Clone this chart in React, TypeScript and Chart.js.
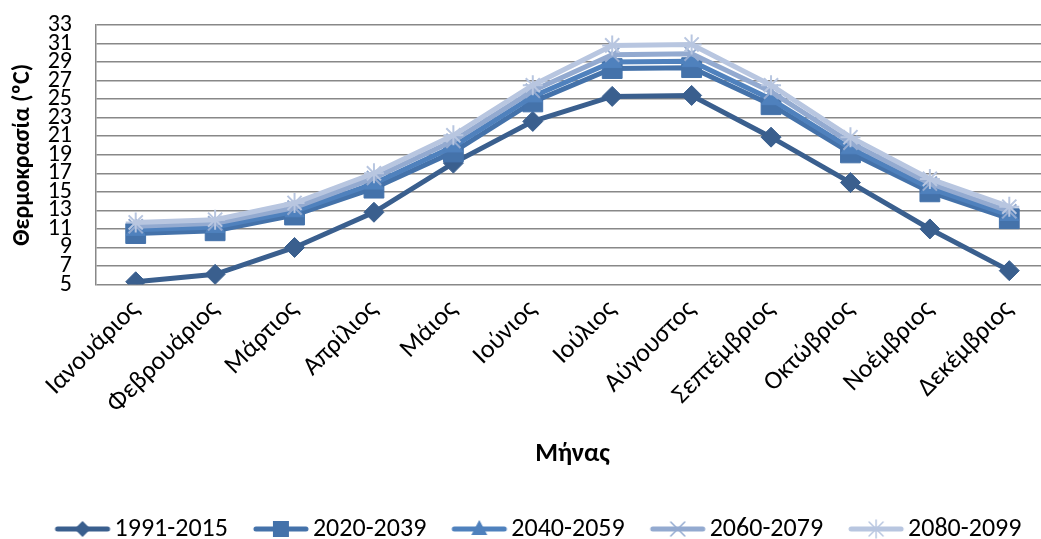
import React, { useEffect, useRef } from "react";
import { Chart, registerables } from "chart.js";

Chart.register(...registerables);

const months = [
  "Ιανουάριος", "Φεβρουάριος", "Μάρτιος", "Απρίλιος", "Μάιος", "Ιούνιος",
  "Ιούλιος", "Αύγουστος", "Σεπτέμβριος", "Οκτώβριος", "Νοέμβριος", "Δεκέμβριος",
];
const seriesNames = ["1991-2015", "2020-2039", "2040-2059", "2060-2079", "2080-2099"];
const s1991 = [5.3, 6.1, 9.0, 12.8, 18.1, 22.6, 25.3, 25.4, 20.9, 16.0, 11.0, 6.5];
const s2020 = [10.5, 10.8, 12.5, 15.4, 19.3, 24.7, 28.3, 28.4, 24.4, 19.2, 15.0, 12.1];
const s2040 = [10.9, 11.2, 12.9, 15.9, 19.9, 25.3, 29.0, 29.1, 25.0, 19.7, 15.4, 12.5];
const s2060 = [11.3, 11.6, 13.3, 16.5, 20.5, 25.9, 29.8, 29.9, 25.8, 20.3, 15.9, 12.9];
const s2080 = [11.7, 12.0, 13.8, 17.0, 21.1, 26.5, 30.8, 30.9, 26.5, 20.9, 16.4, 13.4];
const yMin = 5;
const yMax = 33;
const yStep = 2;

const colors = ["#3A5F8E", "#4472AA", "#4F81BD", "#93AAD0", "#B8C6E0"];
const styles = ["rectRot", "rect", "triangle", "crossRot", "star"];
const radii = [10, 14, 11, 10, 10];
const FONT = "Carlito, 'Liberation Sans Narrow', 'DejaVu Sans Condensed', 'Noto Sans', sans-serif";

const BOXW = 68;
const ICONW = 110;

function legendIcon(i: number): HTMLCanvasElement {
  const c = document.createElement("canvas");
  c.width = ICONW;
  c.height = 22;
  const ctx = c.getContext("2d") as CanvasRenderingContext2D;
  const cx = ICONW / 2 + BOXW / 2 - 19;
  ctx.strokeStyle = colors[i];
  ctx.fillStyle = colors[i];
  ctx.lineWidth = 5;
  ctx.lineCap = "round";
  ctx.beginPath();
  ctx.moveTo(cx - 25, 11);
  ctx.lineTo(cx + 25, 11);
  ctx.stroke();
  const x = cx, y = 11;
  const st = styles[i];
  ctx.lineWidth = 1.5;
  ctx.beginPath();
  if (st === "rectRot") {
    ctx.moveTo(x - 8, y); ctx.lineTo(x, y - 8); ctx.lineTo(x + 8, y); ctx.lineTo(x, y + 8); ctx.closePath(); ctx.fill();
  } else if (st === "rect") {
    ctx.rect(x - 8, y - 8, 16, 16); ctx.fill();
  } else if (st === "triangle") {
    ctx.moveTo(x - 8, y + 6); ctx.lineTo(x, y - 9); ctx.lineTo(x + 8, y + 6); ctx.closePath(); ctx.fill();
  } else if (st === "crossRot") {
    ctx.moveTo(x - 7, y - 7); ctx.lineTo(x + 7, y + 7); ctx.moveTo(x + 7, y - 7); ctx.lineTo(x - 7, y + 7); ctx.stroke();
  } else {
    ctx.moveTo(x - 7, y - 7); ctx.lineTo(x + 7, y + 7); ctx.moveTo(x + 7, y - 7); ctx.lineTo(x - 7, y + 7);
    ctx.moveTo(x, y - 9); ctx.lineTo(x, y + 9); ctx.stroke();
  }
  return c;
}

export default function App() {
  const ref = useRef<HTMLCanvasElement | null>(null);
  useEffect(() => {
    if (!ref.current) return;
    const all = [s1991, s2020, s2040, s2060, s2080];
    const icons = seriesNames.map((_, i) => legendIcon(i));
    const chart = new Chart(ref.current, {
      type: "line",
      data: {
        labels: months,
        datasets: all.map((d, i) => ({
          label: seriesNames[i],
          data: d,
          borderColor: colors[i],
          backgroundColor: colors[i],
          pointBackgroundColor: colors[i],
          pointBorderColor: colors[i],
          borderWidth: 5,
          pointStyle: styles[i] as any,
          pointRadius: radii[i],
          pointBorderWidth: i >= 3 ? 2 : 1,
          tension: 0,
          order: 5 - i,
        })),
      },
      options: {
        responsive: false,
        animation: false,
        layout: { autoPadding: false, padding: { left: 6, right: 1, top: 25, bottom: -13 } },
        plugins: {
          tooltip: { enabled: false },
          legend: {
            position: "bottom",
            labels: {
              usePointStyle: true,
              pointStyleWidth: BOXW,
              padding: 4,
              color: "#000",
              font: { family: FONT, size: 26, lineHeight: 1.0 },
              generateLabels: () =>
                seriesNames.map((n, i) => ({
                  text: n,
                  fillStyle: colors[i],
                  strokeStyle: colors[i],
                  lineWidth: 0,
                  pointStyle: icons[i] as any,
                  hidden: false,
                  datasetIndex: i,
                  fontColor: "#000",
                })),
            },
          },
        },
        scales: {
          x: {
            offset: true,
            grid: { display: false, drawTicks: false },
            border: { display: false },
            ticks: {
              color: "#000",
              font: { family: FONT, size: 26 },
              minRotation: 45,
              maxRotation: 45,
              autoSkip: false,
              padding: 10,
            },
            title: {
              display: true,
              text: "Μήνας",
              color: "#000",
              font: { family: FONT, size: 26, weight: "bold" },
              padding: { top: 9, bottom: 42 },
            },
            afterFit: (scale: any) => {
              scale.paddingLeft = 0;
              scale.paddingRight = 0;
            },
          },
          y: {
            min: yMin,
            max: yMax,
            grid: { color: "#888888", lineWidth: 1.5, drawTicks: false },
            border: { display: true, color: "#888888", width: 1.5 },
            ticks: {
              stepSize: yStep,
              autoSkip: false,
              maxTicksLimit: 40,
              color: "#000",
              font: { family: FONT, size: 24, lineHeight: 0.8 },
              padding: 24,
            },
            title: {
              display: true,
              text: "Θερμοκρασία (ºC)",
              color: "#000",
              font: { family: FONT, size: 24, weight: "bold" },
              padding: { top: 3, bottom: 12 },
            },
            afterFit: (scale: any) => {
              scale.width = 90;
              scale.paddingTop = 0;
              scale.paddingBottom = 0;
            },
          },
        },
      },
    });
    return () => chart.destroy();
  }, []);
  return (
    <div style={{ position: "fixed", left: 0, top: 0, width: 1041, height: 539, overflow: "hidden", background: "#fff" }}>
      <canvas ref={ref} width={1050} height={539} style={{ display: "block" }} />
    </div>
  );
}
